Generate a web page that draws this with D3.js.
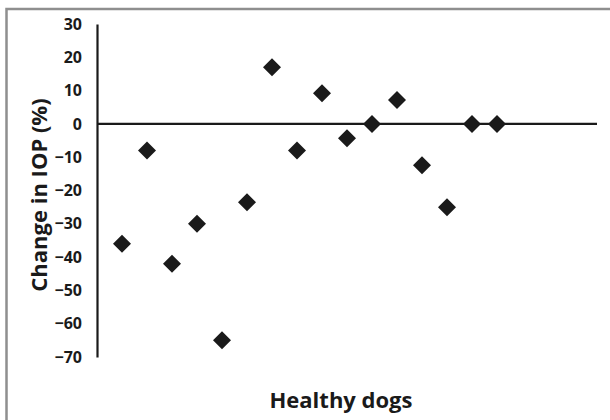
<!DOCTYPE html>
<html><head><meta charset="utf-8">
<script src="https://cdn.jsdelivr.net/npm/d3@7/dist/d3.min.js"></script>
<style>body{margin:0;background:#fff}svg{display:block}</style>
</head><body>
<svg id="c" width="610" height="420"></svg>
<script>
const dogIndex = [1,2,3,4,5,6,7,8,9,10,11,12,13,14,15,16];
const iopChange = [-36,-8,-42,-30,-65,-23.5,17,-8,9.2,-4.3,0,7.2,-12.4,-25,0,0];
const yTicks = [30,20,10,0,-10,-20,-30,-40,-50,-60,-70];
const yTitle = "Change in IOP (%)";
const xTitle = "Healthy dogs";

const svg = d3.select("#c");
const font = "'Open Sans', sans-serif";

// outer frame
svg.append("rect").attr("x",6.5).attr("y",9).attr("width",620).attr("height",430)
  .attr("fill","none").attr("stroke","#8f8f8f").attr("stroke-width",2.5);

const x = d3.scaleLinear().domain([0,20]).range([97,597]);
const y = d3.scaleLinear().domain([-70,30]).range([357,24]);

// y axis
const yAxis = d3.axisLeft(y).tickValues(yTicks).tickSize(0).tickPadding(15).tickFormat(d3.format("d"));
const ga = svg.append("g").attr("transform",`translate(${x(0)},0)`).call(yAxis);
ga.select(".domain").attr("stroke","#1a1a1a").attr("stroke-width",2.2);
ga.selectAll("text").attr("font-family",font).attr("font-weight","bold").attr("font-size",16).attr("fill","#1a1a1a");

// zero line
svg.append("line").attr("x1",x(0)).attr("x2",x(20)).attr("y1",y(0)).attr("y2",y(0))
  .attr("stroke","#1a1a1a").attr("stroke-width",2.2);

// points
const r = 9;
svg.append("g").selectAll("path").data(dogIndex).join("path")
  .attr("d",(d,i)=>{const cx=x(d), cy=y(iopChange[i]);
    return `M${cx},${cy-r}L${cx+r},${cy}L${cx},${cy+r}L${cx-r},${cy}Z`;})
  .attr("fill","#1a1a1a");

// titles
svg.append("text").attr("transform",`translate(47,195) rotate(-90)`)
  .attr("text-anchor","middle")
  .attr("font-family",font).attr("font-weight","bold").attr("font-size",22).attr("fill","#1a1a1a")
  .text(yTitle);
svg.append("text").attr("x",341).attr("y",408).attr("text-anchor","middle")
  .attr("font-family",font).attr("font-weight","bold").attr("font-size",22).attr("fill","#1a1a1a")
  .text(xTitle);
</script>
</body></html>
